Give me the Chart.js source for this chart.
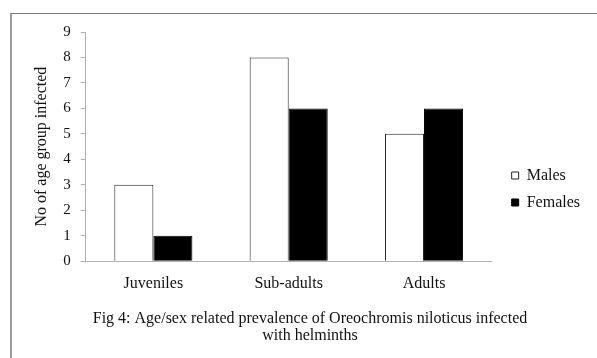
<!DOCTYPE html>
<html>
<head>
<meta charset="utf-8">
<script src="https://cdn.jsdelivr.net/npm/chart.js@4.4.1/dist/chart.umd.min.js"></script>
<style>
  html, body { margin: 0; padding: 0; background: #fff; }
  #wrap { position: relative; width: 597px; height: 358px; overflow: hidden; }
  #frame { position: absolute; left: 10px; top: 13px; width: 700px; height: 500px;
           border-left: 2px solid #9a9a9a; border-top: 1px solid #7a7a7a; }
  #chart { position: absolute; left: 0; top: 0; }
</style>
</head>
<body>
<div id="wrap">
  <div id="frame"></div>
  <canvas id="chart" width="597" height="358"></canvas>
</div>
<script>
const categories = ['Juveniles', 'Sub-adults', 'Adults'];
const males = [3, 8, 5];
const females = [1, 6, 6];
const yTicks = [0, 1, 2, 3, 4, 5, 6, 7, 8, 9];
const caption = ['Fig 4: Age/sex related prevalence of Oreochromis niloticus infected', 'with helminths'];

const serif = 'Liberation Serif, Times New Roman, serif';

function renderChart() {
    const ctx = document.getElementById('chart').getContext('2d');
    new Chart(ctx, {
        type: 'bar',
        data: {
            labels: categories,
            datasets: [{
                label: 'Males',
                data: males,
                backgroundColor: '#ffffff',
                borderColor: '#222222',
                borderWidth: 1,
            }, {
                label: 'Females',
                data: females,
                backgroundColor: '#000000',
                borderColor: '#000000',
                borderWidth: 1,
            }]
        },
        options: {
            responsive: false,
            animation: false,
            layout: { padding: { left: 30, right: 7, top: 32, bottom: 12 } },
            datasets: {
                bar: { categoryPercentage: 0.577, barPercentage: 1.0 }
            },
            plugins: {
                legend: {
                    position: 'right',
                    labels: {
                        boxWidth: 7,
                        boxHeight: 7,
                        padding: 11,
                        color: '#111',
                        font: { family: serif, size: 16 },
                    }
                },
                title: {
                    display: true,
                    position: 'bottom',
                    text: caption,
                    color: '#111',
                    font: { family: serif, size: 16, weight: 'normal', lineHeight: 1.05 },
                    padding: { top: 4, bottom: 2 },
                },
                tooltip: { enabled: false }
            },
            scales: {
                x: {
                    grid: { display: false, drawTicks: false },
                    border: { color: '#b0b0b0', width: 1 },
                    ticks: { color: '#111', padding: 13, font: { family: serif, size: 16 } },
                },
                y: {
                    min: 0,
                    max: 9,
                    afterBuildTicks: (axis) => { axis.ticks = yTicks.map(v => ({ value: v })); },
                    grid: { drawOnChartArea: false, drawTicks: true, tickLength: 5, color: '#b0b0b0' },
                    border: { color: '#b0b0b0', width: 1 },
                    ticks: { color: '#111', padding: 10, font: { family: serif, size: 15 } },
                    title: {
                        display: true,
                        text: 'No of age group infected',
                        color: '#111',
                        font: { family: serif, size: 16 },
                        padding: { top: 2, bottom: 2 },
                    }
                },
                // empty spacer between plot and legend
                gap: {
                    position: 'right',
                    display: true,
                    grid: { display: false },
                    border: { display: false },
                    ticks: { display: false },
                    afterFit: (scale) => { scale.width = 9; },
                }
            }
        }
    });
}

document.addEventListener('DOMContentLoaded', renderChart);
</script>
</body>
</html>
